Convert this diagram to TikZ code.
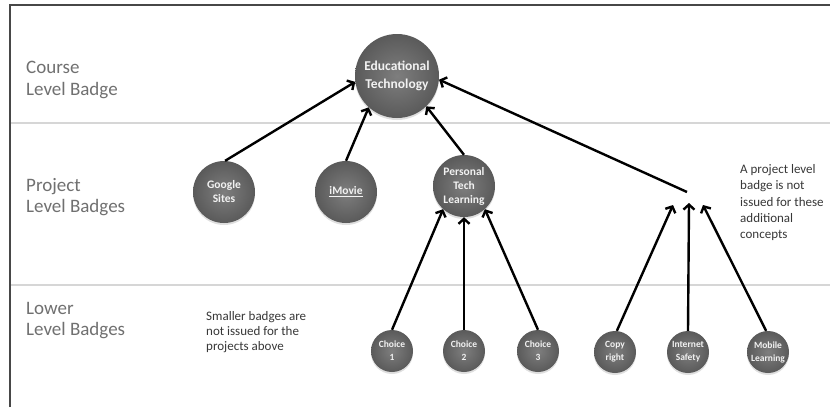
\documentclass[tikz,border=0pt]{standalone}
\usepackage{fontspec}
\setmainfont{Carlito}
\usetikzlibrary{arrows.meta,shadows}
\definecolor{levelgray}{HTML}{707070}
\definecolor{notegray}{HTML}{383838}
\definecolor{rulegray}{HTML}{D6D6D6}
\definecolor{framegray}{HTML}{474747}
\definecolor{badgeinner}{HTML}{7E7E7E}
\definecolor{badgeouter}{HTML}{5A5A5A}
\tikzset{
  badge/.style={circle,inner sep=0pt,align=center,text=white!90!gray,
    inner color=badgeinner,outer color=badgeouter,
    drop shadow={shadow xshift=0pt,shadow yshift=-2pt,opacity=.25}},
  level/.style={anchor=north west,inner sep=0pt,align=left,text=levelgray,
    font=\fontsize{19}{21.5}\selectfont},
  note/.style={anchor=north west,inner sep=0pt,align=left,text=notegray,
    font=\fontsize{13}{16.4}\selectfont},
  link/.style={line width=2.4pt,-{Straight Barb[length=5pt,width=11pt]}},
  rule/.style={line width=2pt,draw=rulegray}
}
\newcommand\midbadge[3]{\node(#1)[badge,minimum size=62pt,font=\bfseries\fontsize{11.5}{14}\selectfont] at (#2){#3};}
\newcommand\lowbadge[3]{\node(#1)[badge,minimum size=42pt,font=\bfseries\fontsize{9.5}{13}\selectfont] at (#2){#3};}

\begin{document}
\begin{tikzpicture}[x=1pt,y=-1pt]
    \useasboundingbox[fill=white] (0,0) rectangle (830,407);
    \draw[rule] (10,123) -- (830,123) (10,285) -- (830,285);
    \draw[line width=1.6pt,framegray] (10,407) -- (10,5) -- (830,5);

    \node(lc)[level] at (26,61){Course\\Level Badge};
    \node(lp)[level] at (26,178){Project\\Level Badges};
    \node(ll)[level] at (26,302){Lower\\Level Badges};

    \node(et)[badge,minimum size=84pt,font=\bfseries\fontsize{13.5}{18}\selectfont] at (397,76){Educational\\Technology};
    \midbadge{gs}{224,192}{Google\\Sites}
    \midbadge{im}{346,192}{\underline{iMovie}}
    \midbadge{ptl}{464,186}{Personal\\Tech\\Learning}
    \lowbadge{c1}{392,351}{Choice\\1}
    \lowbadge{c2}{464,351}{Choice\\2}
    \lowbadge{c3}{538,351}{Choice\\3}
    \lowbadge{cr}{615,352}{Copy\\right}
    \lowbadge{is}{688,352}{Internet\\Safety}
    \lowbadge{ml}{768,352}{Mobile\\Learning}

    \coordinate(hub) at (687,192);
    \coordinate(tl) at (673,205);
    \coordinate(tm) at (689,203);
    \coordinate(tr) at (703,205);

    \node(nl)[note,font=\fontsize{13}{15.2}\selectfont] at (206,311){Smaller badges are\\not issued for the\\projects above};
    \node(nr)[note] at (740,164){A project level\\badge is not\\issued for these\\additional\\concepts};

    \draw[link] (gs.88) -- (et.188);
    \draw[link] (im.north) -- (et.228);
    \draw[link] (ptl.north) -- (et.314);
    \draw[link] (hub) -- (et.-5);
    \draw[link] (c1.north) -- (ptl.228);
    \draw[link] (c2.north) -- (ptl.south);
    \draw[link] (c3.north) -- (ptl.312);
    \draw[link] (cr.85) -- (tl);
    \draw[link] (is.north) -- (tm);
    \draw[link] (ml.95) -- (tr);
\end{tikzpicture}
\end{document}
